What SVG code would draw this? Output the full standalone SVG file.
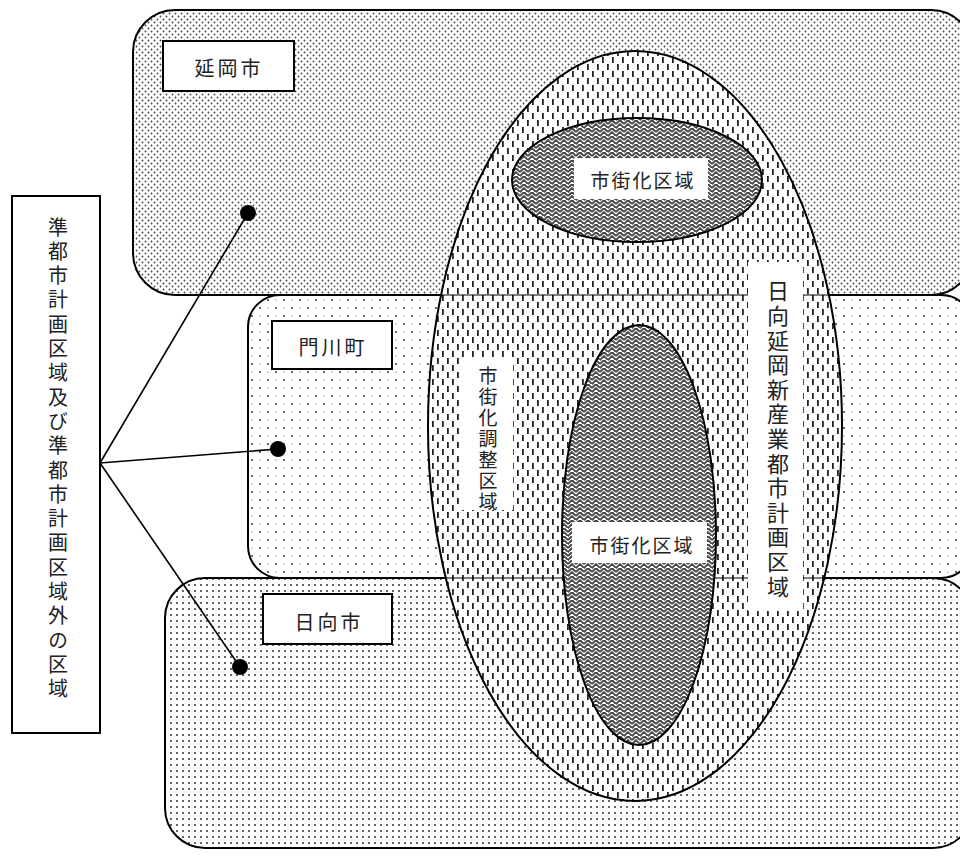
<svg xmlns="http://www.w3.org/2000/svg" width="960" height="858" viewBox="0 0 960 858">
<style>
.t{font-family:"Noto Sans CJK JP","Noto Sans CJK SC",sans-serif;fill:#222;}
.box{fill:#fff;stroke:#000;stroke-width:2;}
.wb{fill:#fff;stroke:none;}
.area{stroke:#000;stroke-width:2;}
.v{writing-mode:vertical-rl;text-orientation:upright;}
.con{stroke:#000;stroke-width:1.6;fill:none;}
</style>
<defs>
<pattern id="pNob" width="6" height="6" patternUnits="userSpaceOnUse">
<rect width="6" height="6" fill="#fff"/>
<circle cx="1.5" cy="1.5" r="0.9" fill="#444"/>
<circle cx="4.5" cy="4.5" r="0.9" fill="#444"/>
</pattern>
<pattern id="pKado" width="16" height="16" patternUnits="userSpaceOnUse">
<rect width="16" height="16" fill="#fff"/>
<circle cx="4" cy="4" r="1" fill="#333"/>
<circle cx="12" cy="12" r="1" fill="#333"/>
<circle cx="12" cy="4" r="0.9" fill="#ccc"/>
<circle cx="4" cy="12" r="0.9" fill="#ccc"/>
</pattern>
<pattern id="pHyu" width="6" height="6" patternUnits="userSpaceOnUse">
<rect width="6" height="6" fill="#fff"/>
<circle cx="3" cy="3" r="1" fill="#333"/>
</pattern>
<pattern id="pDash" width="10" height="14" patternUnits="userSpaceOnUse">
<rect width="10" height="14" fill="#fff"/>
<rect x="2" y="1" width="1.8" height="6" fill="#222"/>
<rect x="7" y="8" width="1.8" height="6" fill="#222"/>
</pattern>
<pattern id="pWeave" width="8" height="8" patternUnits="userSpaceOnUse">
<rect width="8" height="8" fill="#fff"/>
<path d="M0,8 L4,4 L8,8 M0,4 L4,0 L8,4 M2,2 L2,2" stroke="#444" stroke-width="1.8" fill="none"/>
<path d="M4,4 L6,6 M0,0 L2,2" stroke="#666" stroke-width="1" fill="none"/>
</pattern>
<clipPath id="bigClip"><ellipse cx="635" cy="426" rx="207" ry="375"/></clipPath>
</defs>

<g id="nobeoka">
<rect class="area" x="133" y="10" width="840" height="285" rx="42" fill="url(#pNob)"/>
</g>
<g id="kadogawa">
<rect class="area" x="248" y="295" width="725" height="283" rx="32" fill="url(#pKado)"/>
</g>
<g id="hyuga">
<rect class="area" x="165" y="578" width="808" height="270" rx="40" fill="url(#pHyu)"/>
</g>

<g id="toshikeikaku">
<ellipse cx="635" cy="426" rx="207" ry="375" fill="url(#pDash)" stroke="#000" stroke-width="2"/>
<g clip-path="url(#bigClip)" stroke="#000" stroke-width="1.2">
<line x1="400" y1="295" x2="880" y2="295"/>
<line x1="400" y1="578" x2="880" y2="578"/>
</g>
</g>

<g id="shigaika1">
<ellipse cx="637" cy="180" rx="125" ry="62" fill="url(#pWeave)" stroke="#000" stroke-width="2"/>
<rect class="wb" x="574" y="158" width="134" height="41"/>
<text class="t" x="643" y="179" font-size="19" letter-spacing="2" text-anchor="middle" dominant-baseline="central">市街化区域</text>
</g>
<g id="shigaika2">
<ellipse cx="639" cy="535" rx="77" ry="210" fill="url(#pWeave)" stroke="#000" stroke-width="2"/>
<rect class="wb" x="572" y="522" width="135" height="41"/>
<text class="t" x="642" y="544" font-size="19" letter-spacing="2" text-anchor="middle" dominant-baseline="central">市街化区域</text>
</g>

<g id="chosei">
<rect class="wb" x="462" y="358" width="51" height="152"/>
<text class="t v" x="488" y="440" font-size="19" letter-spacing="2" text-anchor="middle">市街化調整区域</text>
</g>
<g id="toshi-label">
<rect class="wb" x="748" y="262" width="55" height="349"/>
<text class="t v" x="778" y="440" font-size="22" letter-spacing="2.6" text-anchor="middle">日向延岡新産業都市計画区域</text>
</g>

<g id="label-nobeoka">
<rect class="box" x="163" y="41" width="131" height="50"/>
<text class="t" x="229" y="67" font-size="20" letter-spacing="3" text-anchor="middle" dominant-baseline="central">延岡市</text>
</g>
<g id="label-kadogawa">
<rect class="box" x="272" y="321" width="120" height="48"/>
<text class="t" x="333" y="346" font-size="20" letter-spacing="3" text-anchor="middle" dominant-baseline="central">門川町</text>
</g>
<g id="label-hyuga">
<rect class="box" x="263" y="594" width="129" height="50"/>
<text class="t" x="329" y="621" font-size="20" letter-spacing="3" text-anchor="middle" dominant-baseline="central">日向市</text>
</g>

<g id="connectors">
<line class="con" x1="100" y1="463" x2="248" y2="213"/>
<line class="con" x1="100" y1="463" x2="278" y2="449"/>
<line class="con" x1="100" y1="463" x2="240" y2="667"/>
<circle cx="248" cy="213" r="8" fill="#000"/>
<circle cx="278" cy="449" r="8" fill="#000"/>
<circle cx="240" cy="667" r="8" fill="#000"/>
</g>

<g id="legend">
<rect class="box" x="12" y="196" width="88" height="537"/>
<text class="t v" x="58" y="460" font-size="20" letter-spacing="4.3" text-anchor="middle">準都市計画区域及び準都市計画区域外の区域</text>
</g>
</svg>
